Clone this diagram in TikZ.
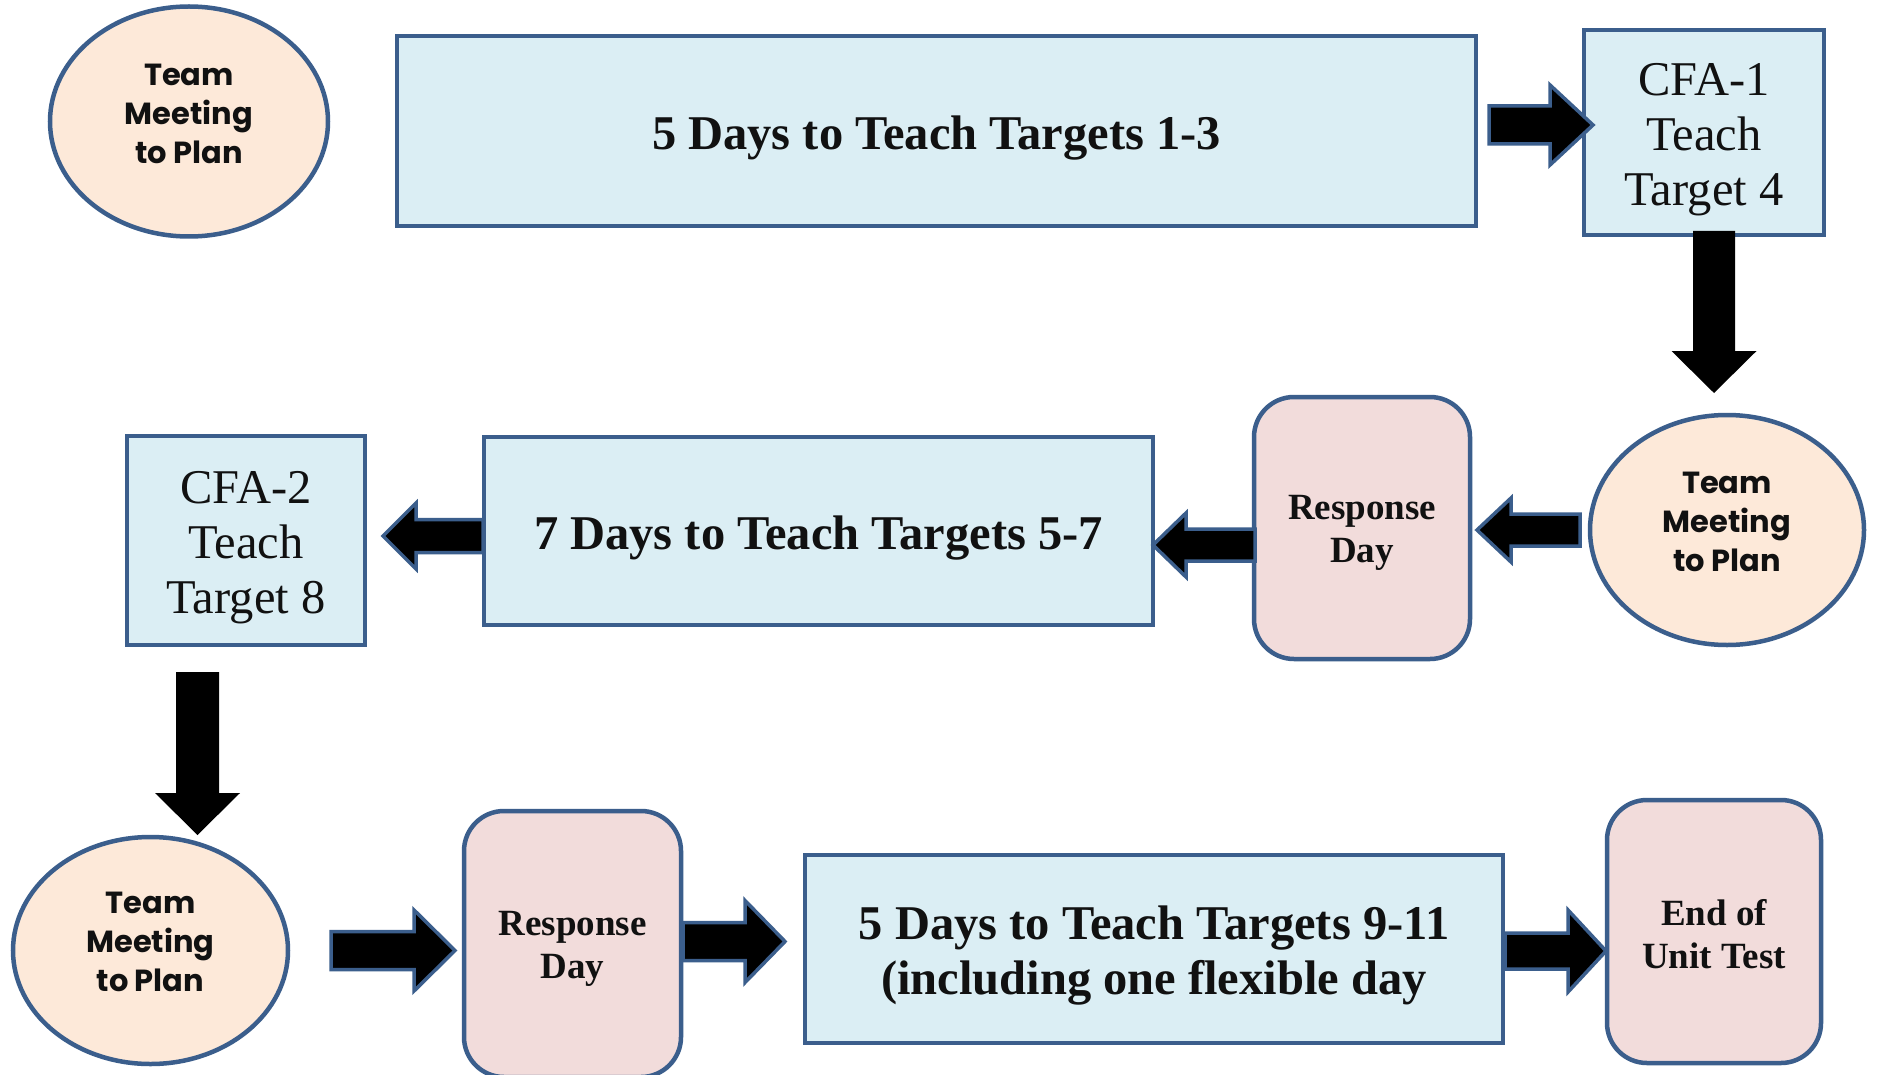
\documentclass[tikz,border=0pt]{standalone}
\usepackage{fontspec}
\setmainfont{Liberation Serif}
\newfontfamily\gothicfont{Poppins}
\usetikzlibrary{shapes.geometric,calc}

\definecolor{edgeblue}{HTML}{3B5E8C}
\definecolor{boxfill}{HTML}{DBEEF4}
\definecolor{meetfill}{HTML}{FDE9D9}
\definecolor{respfill}{HTML}{F2DCDB}
\definecolor{inkblack}{HTML}{111111}

\tikzset{
  base/.style={draw=edgeblue, line width=4.5pt, inner sep=0pt, outer sep=0pt},
  words/.style={align=center, text=inkblack, inner sep=0pt},
  dayfont/.style={words, font=\bfseries\fontsize{48.5}{55}\selectfont},
  cfafont/.style={words, font=\fontsize{48.5}{55}\selectfont},
  meetfont/.style={words, font=\gothicfont\bfseries\fontsize{30.5}{39}\selectfont},
  respfont/.style={words, font=\bfseries\fontsize{37}{43}\selectfont},
  daybox/.style={base, rectangle, fill=boxfill},
  cfabox/.style={base, rectangle, fill=boxfill},
  meeting/.style={base, ellipse, fill=meetfill},
  response/.style={base, rectangle, rounded corners=40pt, fill=respfill},
  flowarrow/.style={fill=black, draw=edgeblue, line width=3.5pt, line join=miter},
  droparrow/.style={fill=black},
}

% block arrow: style, tail, tip, shaft half width, head half width, head length
\newcommand\blockarrow[6]{%
  \path[#1] let \p3=($(#3)!#6!(#2)$) in
    ($(#2)!#4!90:(#3)$) -- ($(\p3)!#4!-90:(#2)$) -- ($(\p3)!#5!-90:(#2)$)
    -- (#3) -- ($(\p3)!#5!90:(#2)$) -- ($(\p3)!#4!90:(#2)$)
    -- ($(#2)!#4!-90:(#3)$) -- cycle;}

\begin{document}
\begin{tikzpicture}[x=1pt,y=-1pt]
\useasboundingbox (0,0) rectangle (1878,1075);
\fill[white] (0,0) rectangle (1878,1075);

% first row
\node[meeting, minimum width=278pt, minimum height=230pt,
  label={[meetfont, yshift=8pt]center:{Team\\Meeting\\to Plan}}] (meet1) at (189,121.5) {};
\node[daybox, minimum width=1079pt, minimum height=190pt,
  label={[dayfont, yshift=-7pt]center:{5 Days to Teach Targets 1-3}}] (days1) at (936.5,131) {};
\node[cfabox, minimum width=240pt, minimum height=205pt,
  label={[cfafont, yshift=-7pt]center:{CFA-1\\Teach\\Target 4}}] (cfa1) at (1704,132.5) {};

% second row
\node[meeting, minimum width=274pt, minimum height=230pt,
  label={[meetfont, yshift=8pt]center:{Team\\Meeting\\to Plan}}] (meet2) at (1727,530) {};
\node[response, minimum width=216pt, minimum height=262pt,
  label={[respfont, yshift=-5pt]center:{Response\\Day}}] (resp1) at (1362,528) {};
\node[daybox, minimum width=669pt, minimum height=188pt,
  label={[dayfont, yshift=-7pt]center:{7 Days to Teach Targets 5-7}}] (days2) at (818.5,531) {};
\node[cfabox, minimum width=238pt, minimum height=209pt,
  label={[cfafont, yshift=-7pt]center:{CFA-2\\Teach\\Target 8}}] (cfa2) at (246,540.5) {};

% third row
\node[meeting, minimum width=275pt, minimum height=227pt,
  label={[meetfont, yshift=9pt]center:{Team\\Meeting\\to Plan}}] (meet3) at (150.5,950.5) {};
\node[response, minimum width=217pt, minimum height=266pt,
  label={[respfont, yshift=-4.5pt]center:{Response\\Day}}] (resp2) at (572.5,944) {};
\node[daybox, minimum width=698pt, minimum height=188pt,
  label={[dayfont, yshift=-7pt]center:{5 Days to Teach Targets 9-11\\(including one flexible day}}] (days3) at (1154,949) {};
\node[response, minimum width=214pt, minimum height=263pt,
  label={[respfont, yshift=-3pt]center:{End of\\Unit Test}}] (endtest) at (1714,931.5) {};

% arrow end points
\coordinate (a1t) at ($(days1.east)+(13,-6)$);
\coordinate (a1h) at ($(a1t -| cfa1.west)+(9,0)$);
\coordinate (a2t) at ($(cfa1.south)+(10,-4)$);
\coordinate (a2h) at ($(a2t |- meet2.north)+(0,-22)$);
\coordinate (a3t) at ($(meet2.west)+(-10,0)$);
\coordinate (a3h) at ($(a3t -| resp1.east)+(7,0)$);
\coordinate (a4t) at ($(resp1.west)+(1,17)$);
\coordinate (a4h) at (a4t -| days2.east);
\coordinate (a5t) at ($(days2.west)+(-1,5)$);
\coordinate (a5h) at ($(a5t -| cfa2.east)+(18,0)$);
\coordinate (a6t) at ($(cfa2.south)+(-48.5,27)$);
\coordinate (a6h) at ($(a6t |- meet3.north)+(0,-2)$);
\coordinate (a7t) at ($(meet3.east)+(43,0)$);
\coordinate (a7h) at ($(a7t -| resp2.west)+(-9,0)$);
\coordinate (a8t) at ($(resp2.east)+(2,-2.5)$);
\coordinate (a8h) at ($(a8t -| days3.west)+(-20,0)$);
\coordinate (a9t) at ($(days3.east)+(2,2)$);
\coordinate (a9h) at ($(a9t -| endtest.west)+(-1,0)$);

% arrows
\blockarrow{flowarrow}{a1t}{a1h}{19pt}{40pt}{43pt}
\blockarrow{droparrow}{a2t}{a2h}{21pt}{42.5pt}{42pt}
\blockarrow{flowarrow}{a3t}{a3h}{16pt}{32pt}{34pt}
\blockarrow{flowarrow}{a4t}{a4h}{16pt}{32pt}{33pt}
\blockarrow{flowarrow}{a5t}{a5h}{16.5pt}{33pt}{33pt}
\blockarrow{droparrow}{a6t}{a6h}{21.5pt}{42.5pt}{42pt}
\blockarrow{flowarrow}{a7t}{a7h}{19pt}{40.5pt}{41pt}
\blockarrow{flowarrow}{a8t}{a8h}{19pt}{41pt}{40pt}
\blockarrow{flowarrow}{a9t}{a9h}{18pt}{41pt}{38pt}
\end{tikzpicture}
\end{document}
